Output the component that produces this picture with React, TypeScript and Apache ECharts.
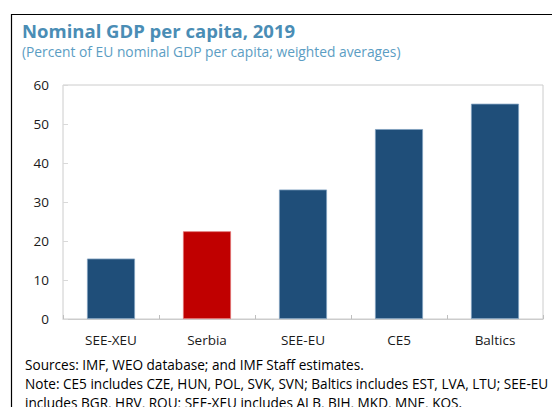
import React, { useEffect, useRef } from "react";
import * as echarts from "echarts";

const categories = ["SEE-XEU", "Serbia", "SEE-EU", "CE5", "Baltics"];
const values = [15.5, 22.5, 33.2, 48.7, 55.2];
const barColors = ["#1f4e79", "#c00000", "#1f4e79", "#1f4e79", "#1f4e79"];
const titleText = "Nominal GDP per capita, 2019";
const subtitleText = "(Percent of EU nominal GDP per capita; weighted averages)";
const footerLines = [
  "Sources: IMF, WEO database; and IMF Staff estimates.",
  "Note: CE5 includes CZE, HUN, POL, SVK, SVN; Baltics includes EST, LVA, LTU; SEE-EU",
  "includes BGR, HRV, ROU; SEE-XEU includes ALB, BIH, MKD, MNE, KOS.",
];

const FONT = "'Open Sans', 'Noto Sans', sans-serif";

export default function App() {
  const ref = useRef<HTMLDivElement>(null);
  useEffect(() => {
    if (!ref.current) return;
    const chart = echarts.init(ref.current, null, { renderer: "svg" });
    chart.setOption({
      animation: false,
      backgroundColor: "#ffffff",
      grid: {
        left: 63,
        top: 85,
        right: 9,
        bottom: 88,
        show: true,
        borderColor: "#cccccc",
        borderWidth: 1,
        containLabel: false,
      },
      xAxis: {
        type: "category",
        data: categories,
        boundaryGap: true,
        axisLine: { show: true, lineStyle: { color: "#cccccc" } },
        axisTick: { show: true, inside: true, length: 4, lineStyle: { color: "#bfbfbf" } },
        axisLabel: { color: "#1a1a1a", fontSize: 13.5, fontFamily: FONT, margin: 14 },
      },
      yAxis: {
        type: "value",
        min: 0,
        max: 60,
        interval: 10,
        axisLine: { show: false },
        splitLine: { show: false },
        axisTick: { show: true, inside: true, length: 5, lineStyle: { color: "#d9d9d9" } },
        axisLabel: { color: "#1a1a1a", fontSize: 13.5, fontFamily: FONT, margin: 14 },
      },
      series: [
        {
          type: "bar",
          barWidth: 48,
          data: values.map((v, i) => ({
            value: v,
            itemStyle: {
              color: barColors[i],
              borderColor: i === 1 ? "#e07070" : "#7f9fbf",
              borderWidth: 0.8,
            },
          })),
        },
      ],
      graphic: [
        {
          type: "rect",
          shape: { x: 11.5, y: 14.5, width: 600, height: 500 },
          style: { fill: "none", stroke: "#000000", lineWidth: 1.2 },
          silent: true,
          z: -1,
        },
        {
          type: "text",
          x: 22,
          y: 21,
          style: {
            text: titleText,
            fill: "#4a8db5",
            font: `bold 18.5px ${FONT}`,
            textVerticalAlign: "top",
          },
        },
        {
          type: "text",
          x: 22,
          y: 44,
          style: {
            text: subtitleText,
            fill: "#5b9dc3",
            font: `13.8px ${FONT}`,
            textVerticalAlign: "top",
          },
        },
        ...footerLines.map((t, i) => ({
          type: "text",
          x: 25,
          y: 364 + i * 19,
          style: {
            text: t,
            fill: "#000000",
            font: `13.6px ${FONT}`,
            textVerticalAlign: "middle",
          },
        })),
      ],
    });
    return () => chart.dispose();
  }, []);
  return <div ref={ref} style={{ width: 552, height: 407, position: "absolute", left: 0, top: 0 }} />;
}
